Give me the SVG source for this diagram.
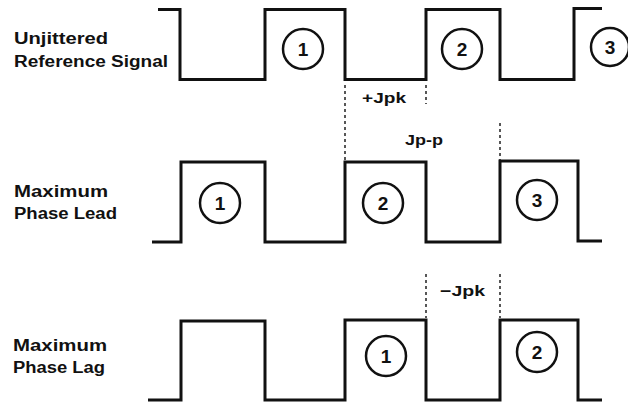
<svg xmlns="http://www.w3.org/2000/svg" width="628" height="404" viewBox="0 0 628 404">
<style>
.lbl{font-family:"Liberation Sans",Arial,sans-serif;font-weight:bold;font-size:16px;fill:#111}
.num{font-family:"Liberation Sans",Arial,sans-serif;font-weight:bold;font-size:19px;fill:#111;text-anchor:middle}
.jl{font-family:"Liberation Sans",Arial,sans-serif;font-weight:bold;font-size:15px;fill:#111}
.wave{fill:none;stroke:#111;stroke-width:3;stroke-linejoin:miter}
.circ{fill:#fff;stroke:#111;stroke-width:2.5}
.dash{stroke:#111;stroke-width:1.4;stroke-dasharray:3 3;fill:none}
</style>
<rect width="628" height="404" fill="#fff"/>
<g id="labels">
<text class="lbl" x="14" y="44" textLength="94" lengthAdjust="spacingAndGlyphs">Unjittered</text>
<text class="lbl" x="14" y="67" textLength="154" lengthAdjust="spacingAndGlyphs">Reference Signal</text>
<text class="lbl" x="14" y="197" textLength="94" lengthAdjust="spacingAndGlyphs">Maximum</text>
<text class="lbl" x="14" y="219" textLength="103" lengthAdjust="spacingAndGlyphs">Phase Lead</text>
<text class="lbl" x="13" y="351" textLength="94" lengthAdjust="spacingAndGlyphs">Maximum</text>
<text class="lbl" x="13" y="373" textLength="92" lengthAdjust="spacingAndGlyphs">Phase Lag</text>
</g>
<g id="ref-signal">
<path class="wave" d="M158 9.5H180V79.5H265V9.5H345V79.5H426V9.5H500V79.5H574V8.5H602"/>
<circle class="circ" cx="303" cy="49" r="20"/><text class="num" x="303" y="56">1</text>
<circle class="circ" cx="462" cy="49" r="20"/><text class="num" x="462" y="56">2</text>
<circle class="circ" cx="610" cy="47" r="19"/><text class="num" x="610" y="54">3</text>
</g>
<g id="phase-lead">
<path class="wave" d="M152 242H181V162H265V242H345V162H426V242H500V161H578V241H602"/>
<circle class="circ" cx="220" cy="203" r="20"/><text class="num" x="220" y="210">1</text>
<circle class="circ" cx="383" cy="203" r="20"/><text class="num" x="383" y="210">2</text>
<circle class="circ" cx="537" cy="200" r="20"/><text class="num" x="537" y="207">3</text>
</g>
<g id="phase-lag">
<path class="wave" d="M148 400H181V321H265V400H345V320H426V400H500V320H578V400H602"/>
<circle class="circ" cx="386" cy="356" r="20"/><text class="num" x="386" y="363">1</text>
<circle class="circ" cx="537" cy="352" r="20"/><text class="num" x="537" y="359">2</text>
</g>
<g id="connectors">
<line class="dash" x1="345" y1="85" x2="345" y2="162"/>
<line class="dash" x1="426" y1="85" x2="426" y2="104"/>
<line class="dash" x1="500" y1="123" x2="500" y2="162"/>
<line class="dash" x1="426" y1="274" x2="426" y2="318"/>
<line class="dash" x1="500" y1="274" x2="500" y2="318"/>
<text class="jl" x="362" y="103" textLength="44" lengthAdjust="spacingAndGlyphs">+Jpk</text>
<text class="jl" x="405" y="145" textLength="38" lengthAdjust="spacingAndGlyphs">Jp-p</text>
<text class="jl" x="440" y="296" textLength="45" lengthAdjust="spacingAndGlyphs">−Jpk</text>
</g>
</svg>
